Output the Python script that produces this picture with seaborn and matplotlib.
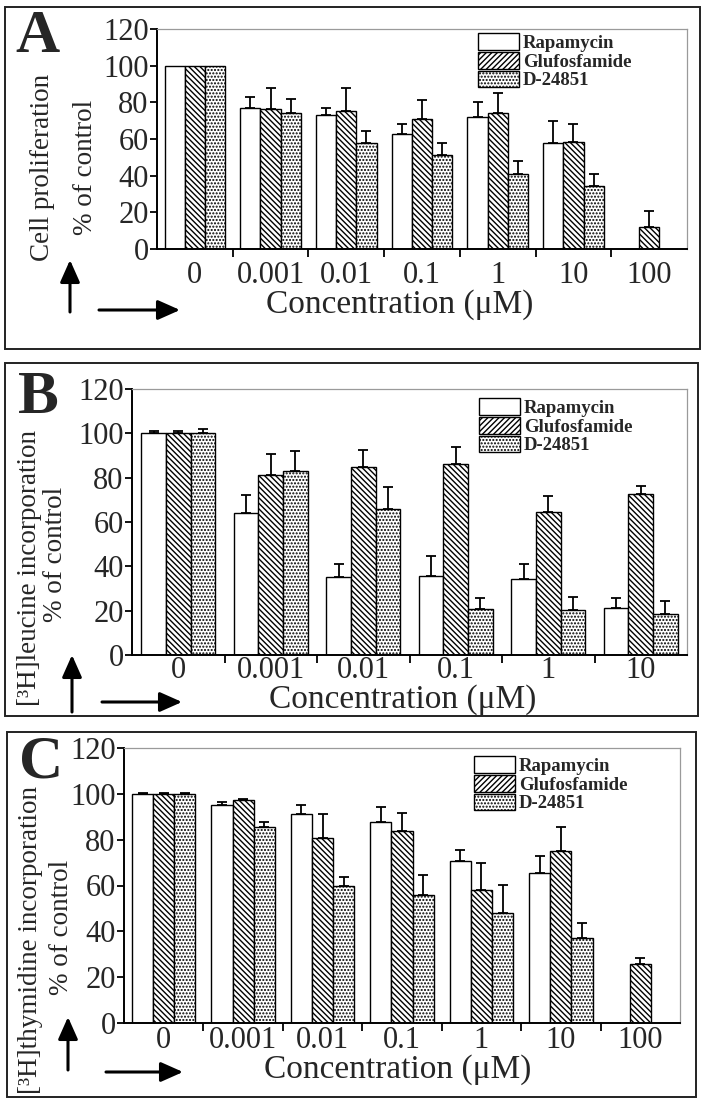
import numpy as np
import pandas as pd
import matplotlib
matplotlib.use("Agg")
import matplotlib.pyplot as plt
import seaborn as sns
from matplotlib.patches import Rectangle, Patch, FancyArrowPatch

nan = np.nan
series = ["Rapamycin", "Glufosfamide", "D-24851"]

# ---- Panel A: cell proliferation ----
conc_A = ["0", "0.001", "0.01", "0.1", "1", "10", "100"]
A_rapamycin = [100, 76.7, 73.0, 62.5, 71.8, 58.0, nan]
A_rapamycin_err = [nan, 6.4, 3.7, 5.6, 8.6, 11.6, nan]
A_glufosfamide = [100, 76.2, 75.4, 71.0, 74.3, 58.4, 11.9]
A_glufosfamide_err = [nan, 11.5, 12.3, 10.0, 11.0, 9.7, 8.7]
A_d24851 = [100, 74.0, 58.0, 51.0, 40.9, 34.2, nan]
A_d24851_err = [nan, 7.8, 6.5, 6.9, 7.0, 6.5, nan]

# ---- Panel B: [3H]leucine incorporation ----
conc_B = ["0", "0.001", "0.01", "0.1", "1", "10"]
B_rapamycin = [100, 64.0, 35.0, 35.6, 34.4, 21.3]
B_rapamycin_err = [1.0, 8.4, 6.0, 8.9, 6.6, 4.2]
B_glufosfamide = [100, 81.3, 84.7, 86.0, 64.7, 72.8]
B_glufosfamide_err = [1.0, 9.3, 7.8, 8.0, 7.1, 3.6]
B_d24851 = [100, 83.0, 65.8, 20.9, 20.1, 18.3]
B_d24851_err = [2.0, 9.0, 10.2, 4.6, 5.9, 6.0]

# ---- Panel C: [3H]thymidine incorporation ----
conc_C = ["0", "0.001", "0.01", "0.1", "1", "10", "100"]
C_rapamycin = [100, 95.3, 91.2, 87.7, 70.5, 65.3, nan]
C_rapamycin_err = [0.5, 1.0, 4.1, 6.4, 5.1, 7.4, nan]
C_glufosfamide = [100, 97.3, 80.7, 83.6, 58.0, 75.0, 25.7]
C_glufosfamide_err = [0.5, 0.4, 10.5, 8.2, 11.8, 10.4, 2.8]
C_d24851 = [100, 85.4, 60.0, 56.0, 48.0, 37.2, nan]
C_d24851_err = [0.5, 2.3, 3.6, 8.7, 12.1, 6.3, nan]

yticks = [0, 20, 40, 60, 80, 100, 120]

sns.set_style("white")
plt.rcParams["font.family"] = ["Liberation Serif", "DejaVu Serif"]
plt.rcParams["hatch.linewidth"] = 1.0
plt.rcParams["hatch.color"] = "black"

W, H = 706, 1106
fig = plt.figure(figsize=(W / 100, H / 100), dpi=100)


def fx(x):
    return x / W


def fy(y):
    return 1 - y / H


bar_hatches = ["", "\\" * 6, "." * 5]
legend_hatches = ["", "/" * 6, "." * 5]


def panel(rect, box, conc, vals, errs, letter, letter_xy, ylab1, ylab1_xy,
          ylab2_xy, xlab_xy, varrow, harrow, leg_xy, xpad):
    l, t, r, b = rect
    ax = fig.add_axes([fx(l), fy(b), fx(r) - fx(l), fy(t) - fy(b)])
    rows = []
    for s, v in zip(series, vals):
        for c, val in zip(conc, v):
            if not np.isnan(val):
                rows.append(dict(conc=c, value=val, drug=s))
    df = pd.DataFrame(rows)
    sns.barplot(data=df, x="conc", y="value", hue="drug", order=conc,
                hue_order=series, palette={s: "white" for s in series},
                saturation=1, edgecolor="black", linewidth=1.0, width=0.8,
                errorbar=None, legend=False, ax=ax, zorder=2)
    for cont, h, s_err in zip(ax.containers, bar_hatches, errs):
        for p in cont:
            p.set_hatch(h)
            cx = p.get_x() + p.get_width() / 2
            gi = int(round(cx))
            e = s_err[gi]
            if not np.isnan(e):
                ax.errorbar(cx, p.get_height(), yerr=[[0], [e]], fmt="none",
                            ecolor="black", elinewidth=1.3, capsize=3.6,
                            capthick=1.3, zorder=3)
    n = len(conc)
    ax.set_xlim(-0.5, n - 0.5)
    ax.set_ylim(0, 120)
    ax.set_yticks(yticks)
    ax.set_xticks(range(n))
    ax.set_xticklabels(conc)
    ax.set_xticks(np.arange(0.5, n - 0.5, 1), minor=True)
    ax.set_xlabel("")
    ax.set_ylabel("")
    ax.tick_params(axis="x", which="major", bottom=False, length=0,
                   labelsize=22, pad=xpad)
    ax.tick_params(axis="x", which="minor", bottom=True, length=6, width=1.3,
                   direction="out", color="black")
    ax.tick_params(axis="y", left=True, length=5, width=1.3, direction="out",
                   labelsize=22, pad=1, color="black")
    for s in ["left", "bottom"]:
        ax.spines[s].set_color("black")
        ax.spines[s].set_linewidth(1.4)
    for s in ["top", "right"]:
        ax.spines[s].set_color("#9a9a9a")
        ax.spines[s].set_linewidth(0.9)

    handles = [Patch(facecolor="white", edgecolor="black", hatch=h, label=s,
                     linewidth=1.0) for s, h in zip(series, legend_hatches)]
    ax.legend(handles=handles, loc="upper left",
              bbox_to_anchor=(fx(leg_xy[0]), fy(leg_xy[1])),
              bbox_transform=fig.transFigure, frameon=False, borderpad=0,
              borderaxespad=0, handlelength=2.2, handleheight=1.0,
              handletextpad=0.2, labelspacing=0,
              prop={"weight": "bold", "size": 13.5})

    # outer panel box
    x0, y0, x1, y1 = box
    fig.add_artist(Rectangle((fx(x0), fy(y1)), fx(x1) - fx(x0), fy(y0) - fy(y1),
                             transform=fig.transFigure, fill=False,
                             edgecolor="#222222", linewidth=1.4))
    fig.text(fx(letter_xy[0]), fy(letter_xy[1]), letter, fontsize=44,
             fontweight="bold", ha="center", va="baseline")
    fig.text(fx(ylab1_xy[0]), fy(ylab1_xy[1]), ylab1, fontsize=19.5,
             rotation=90, ha="center", va="center")
    fig.text(fx(ylab2_xy[0]), fy(ylab2_xy[1]), "% of control", fontsize=19.5,
             rotation=90, ha="center", va="center")
    fig.text(fx(xlab_xy[0]), fy(xlab_xy[1]), "Concentration (\u03bcM)",
             fontsize=24, ha="center", va="center")
    for (p0, p1) in (varrow, harrow):
        fig.add_artist(FancyArrowPatch((fx(p0[0]), fy(p0[1])),
                                       (fx(p1[0]), fy(p1[1])),
                                       transform=fig.transFigure,
                                       arrowstyle="-|>,head_length=0.9,head_width=0.4",
                                       mutation_scale=15, linewidth=2.2,
                                       color="black", shrinkA=0, shrinkB=0))
    return ax


panel((157, 29, 687, 249), (5, 7, 700, 349), conc_A,
      [A_rapamycin, A_glufosfamide, A_d24851],
      [A_rapamycin_err, A_glufosfamide_err, A_d24851_err],
      "A", (37, 52), "Cell proliferation", (43, 167), (85, 167), (400, 305),
      ((70, 312), (70, 260)), ((99, 310), (180, 310)), (478, 33), 9)

panel((132, 389, 687, 655), (5, 363, 698, 716), conc_B,
      [B_rapamycin, B_glufosfamide, B_d24851],
      [B_rapamycin_err, B_glufosfamide_err, B_d24851_err],
      "B", (38, 413), "[\u00b3H]leucine incorporation", (30, 568), (55, 554),
      (403, 700), ((72, 712), (72, 655)), ((102, 702), (182, 702)), (479, 398), 1)

panel((124, 748, 680, 1023), (7, 732, 696, 1097), conc_C,
      [C_rapamycin, C_glufosfamide, C_d24851],
      [C_rapamycin_err, C_glufosfamide_err, C_d24851_err],
      "C", (41, 777), "[\u00b3H]thymidine incorporation", (31, 940), (61, 927),
      (398, 1070), ((68, 1070), (68, 1017)), ((106, 1072), (183, 1072)), (474, 756), 2.5)

fig.savefig("out.png", dpi=100)
